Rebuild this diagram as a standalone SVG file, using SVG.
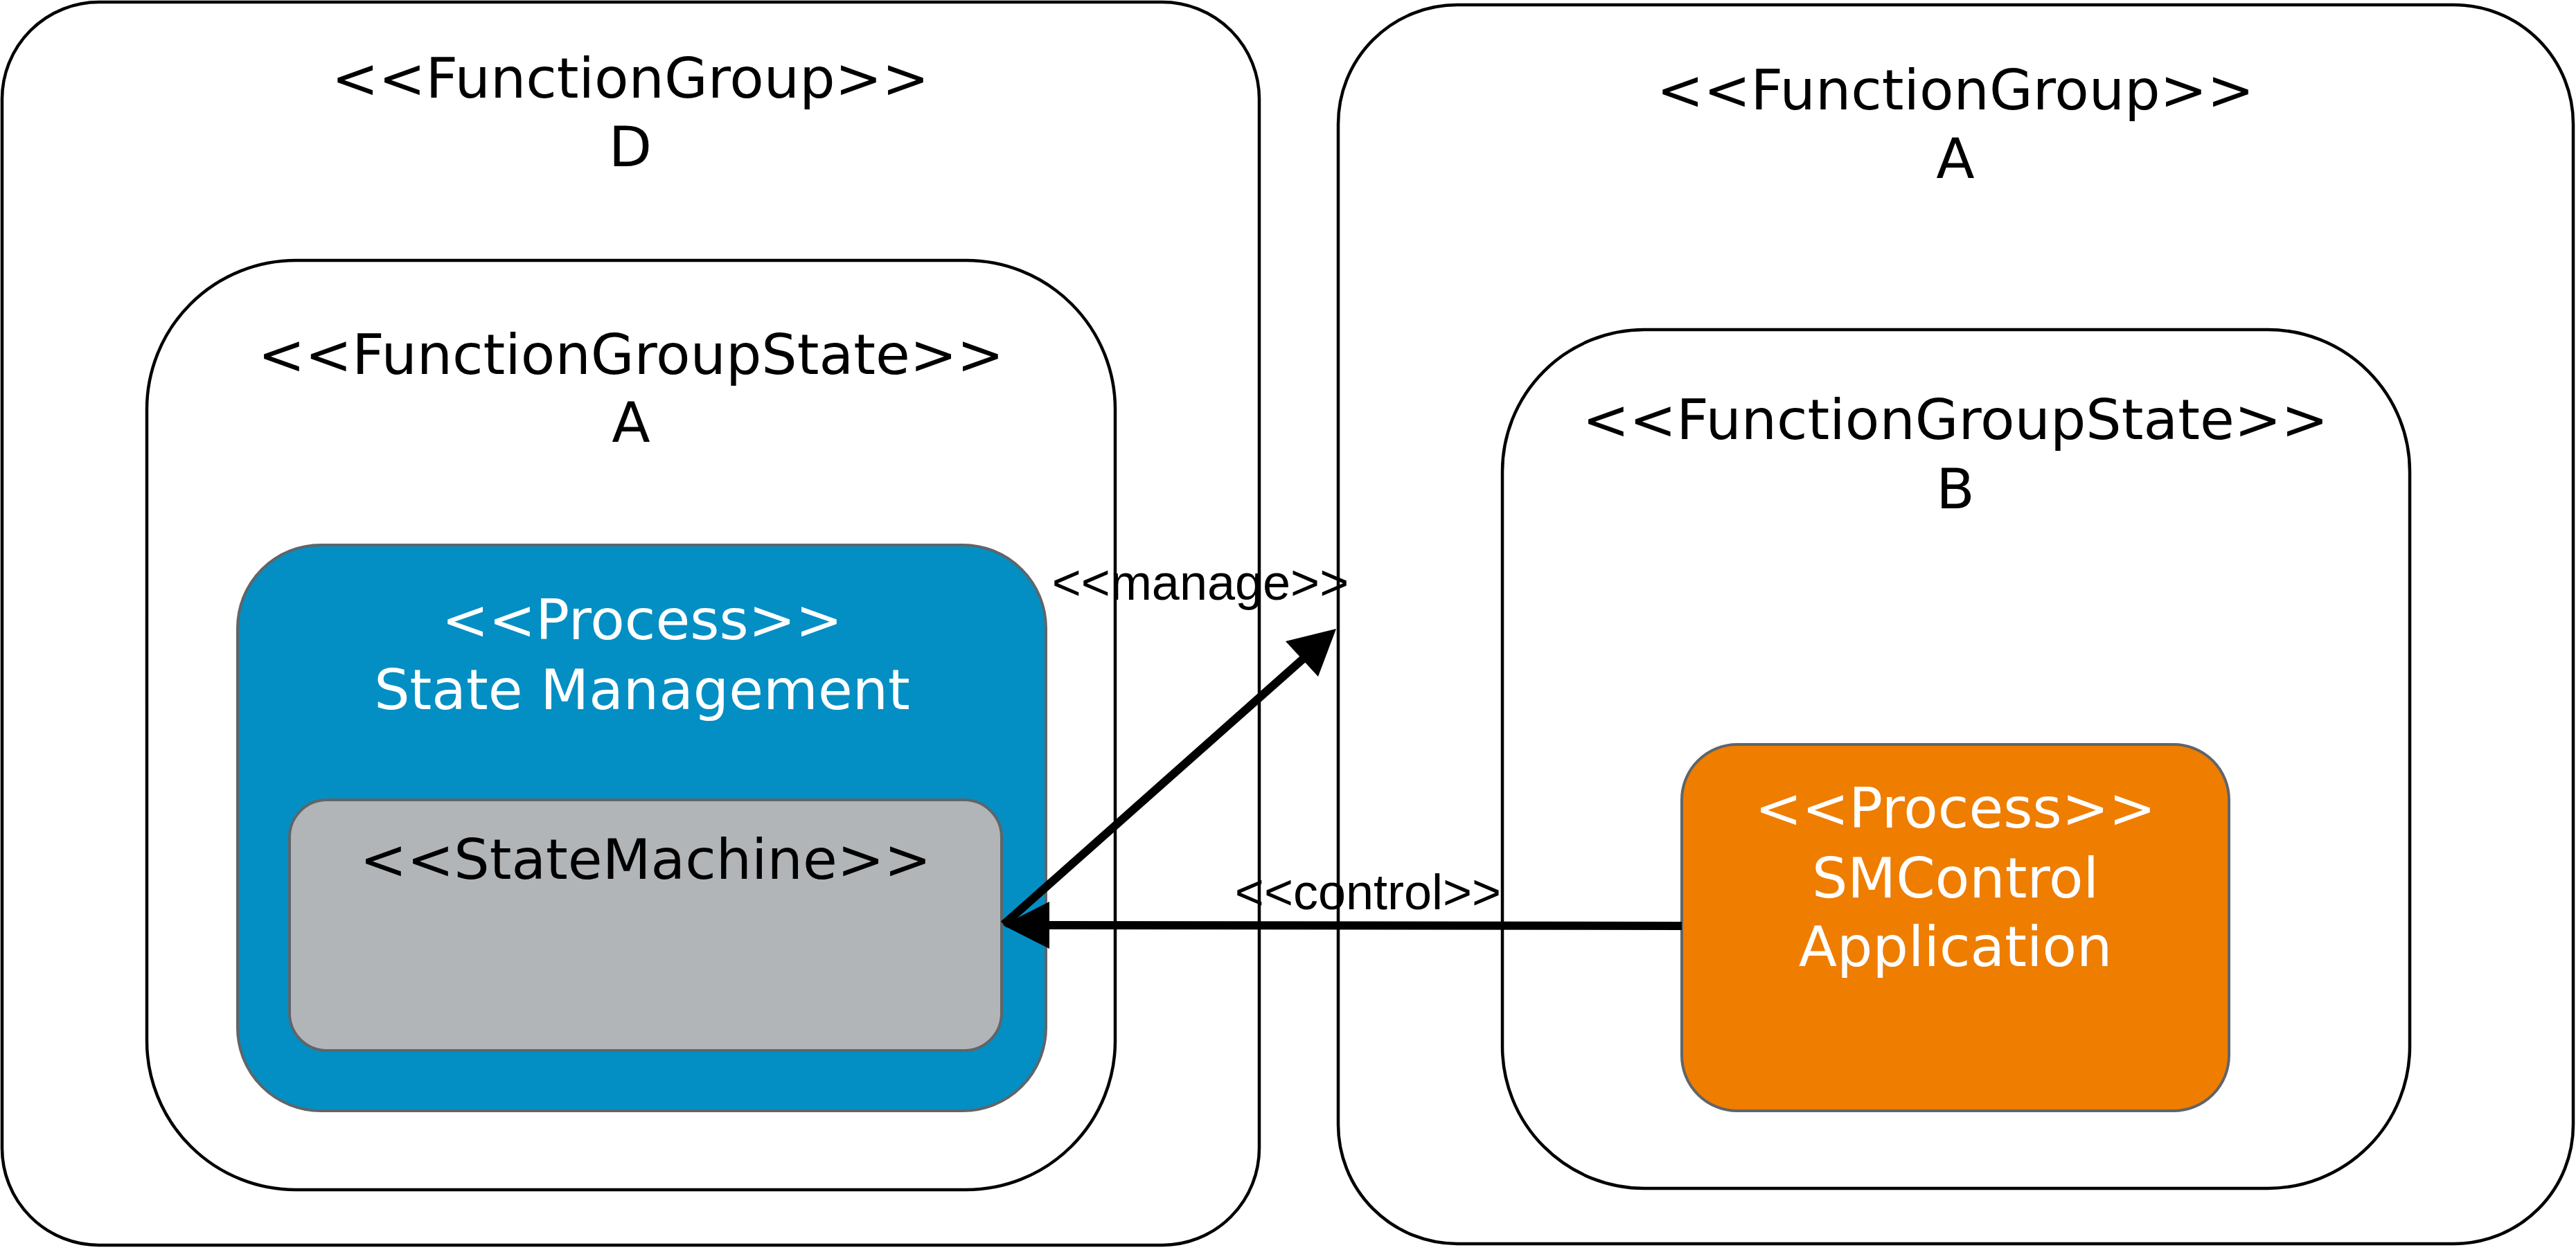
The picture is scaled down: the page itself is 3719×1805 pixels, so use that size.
<svg xmlns="http://www.w3.org/2000/svg" width="3719" height="1805" viewBox="0 0 3719 1805">
<style>
.box{fill:#ffffff;stroke:#000000;stroke-width:4.5}
.proc{stroke:#5f6569;stroke-width:4}
.t{font-family:"DejaVu Sans",sans-serif;font-size:81px;text-anchor:middle;fill:#000000}
.w{fill:#ffffff}
.lbl{font-family:"Liberation Sans",Arial,sans-serif;font-size:72px;text-anchor:middle;fill:#000000}
.conn{stroke:#000000;stroke-width:12;fill:none}
</style>
<rect width="3719" height="1805" fill="#ffffff"/>
<g id="fg-d">
<rect class="box" x="3" y="3" width="1815" height="1795" rx="140" ry="140"/>
<text class="t" x="910" y="141">&lt;&lt;FunctionGroup&gt;&gt;</text>
<text class="t" x="910" y="240">D</text>
</g>
<g id="fg-a">
<rect class="box" x="1932" y="7" width="1783" height="1789" rx="172" ry="172"/>
<text class="t" x="2823" y="158">&lt;&lt;FunctionGroup&gt;&gt;</text>
<text class="t" x="2823" y="257">A</text>
</g>
<g id="fgs-a">
<rect class="box" x="212" y="376" width="1398" height="1342" rx="215" ry="215"/>
<text class="t" x="911" y="540">&lt;&lt;FunctionGroupState&gt;&gt;</text>
<text class="t" x="911" y="638">A</text>
</g>
<g id="fgs-b">
<rect class="box" x="2169" y="476" width="1310" height="1240" rx="205" ry="205"/>
<text class="t" x="2823" y="634">&lt;&lt;FunctionGroupState&gt;&gt;</text>
<text class="t" x="2823" y="734">B</text>
</g>
<g id="proc-sm">
<rect class="proc" x="343" y="787" width="1167" height="817" rx="120" ry="120" fill="#038fc4"/>
<text class="t w" x="927" y="923">&lt;&lt;Process&gt;&gt;</text>
<text class="t w" x="927" y="1024">State Management</text>
</g>
<g id="statemachine">
<rect class="proc" x="418" y="1155" width="1028" height="362" rx="54" ry="54" fill="#b1b5b8"/>
<text class="t" x="932" y="1269">&lt;&lt;StateMachine&gt;&gt;</text>
</g>
<g id="proc-smcontrol">
<rect class="proc" x="2428" y="1075" width="790" height="529" rx="80" ry="80" fill="#ef7d00"/>
<text class="t w" x="2823" y="1195">&lt;&lt;Process&gt;&gt;</text>
<text class="t w" x="2823" y="1296">SMControl</text>
<text class="t w" x="2823" y="1395">Application</text>
</g>
<g id="connectors">
<line class="conn" x1="2428" y1="1337" x2="1510" y2="1336"/>
<polygon points="1448,1336 1515,1302 1515,1370" fill="#000000"/>
<line class="conn" x1="1449" y1="1335" x2="1884" y2="949"/>
<polygon points="1929,908 1856,926 1903,977" fill="#000000"/>
<text class="lbl" x="1733" y="866">&lt;&lt;manage&gt;&gt;</text>
<text class="lbl" x="1975" y="1313">&lt;&lt;control&gt;&gt;</text>
</g>
</svg>
